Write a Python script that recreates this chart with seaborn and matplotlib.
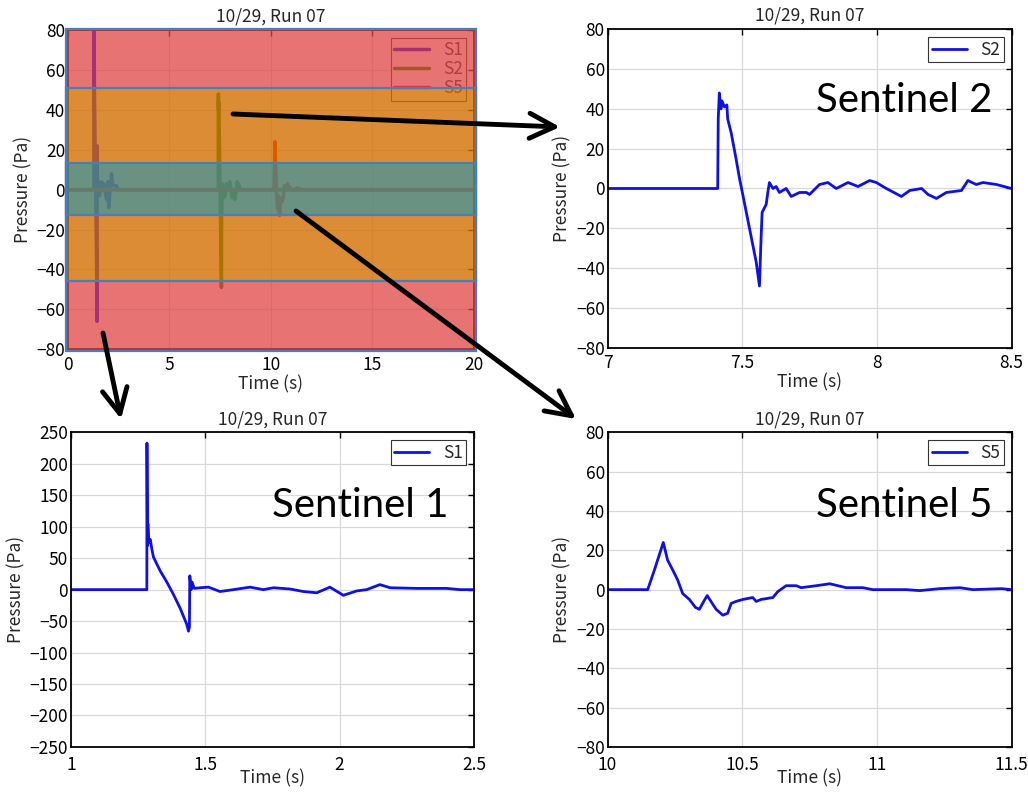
import numpy as np
import pandas as pd
import seaborn as sns
import matplotlib.pyplot as plt
from matplotlib.patches import Rectangle

# traces: time (s), pressure (Pa)
s1_time = [0.0, 1.0, 1.2826, 1.283, 1.285, 1.2865, 1.29, 1.295, 1.301, 1.307,
           1.332, 1.357, 1.382, 1.407, 1.431, 1.4376, 1.441, 1.4425, 1.4475,
           1.451, 1.459, 1.481, 1.512, 1.555, 1.605, 1.667, 1.716, 1.754,
           1.816, 1.865, 1.915, 1.964, 2.014, 2.064, 2.101, 2.150, 2.188,
           2.287, 2.398, 2.448, 2.5, 20.0]
s1_pa = [0, 0, 0, 233, 70, 105, 75, 80, 65, 52,
         30, 12, -8, -30, -55, -66, -60, 22, 0,
         12, 2, 3, 4, -3, 0, 4, 0, 3,
         1, -3, -5, 4, -9, -2, 0, 8, 3,
         2, 2, 0, 0, 0]

s2_time = [0.0, 7.0, 7.409, 7.411, 7.415, 7.421, 7.425, 7.434, 7.443, 7.446,
           7.459, 7.477, 7.49, 7.502, 7.527, 7.552, 7.564, 7.57, 7.574, 7.589,
           7.595, 7.601, 7.614, 7.626, 7.638, 7.663, 7.682, 7.713, 7.738,
           7.75, 7.787, 7.818, 7.849, 7.893, 7.930, 7.973, 7.998, 8.035,
           8.091, 8.122, 8.166, 8.19, 8.221, 8.258, 8.314, 8.338, 8.369,
           8.394, 8.444, 8.5, 20.0]
s2_pa = [0, 0, 0, 35, 48, 40, 44, 41, 42, 35,
         28, 15, 5, -3, -20, -37, -49, -25, -12, -8,
         -2, 3, 0, 1, -2, 0, -4, -2, -2,
         -3, 2, 3, 0, 3, 1, 4, 3, 0,
         -4, -1, 0, -3, -5, -2, -1, 4, 2,
         3, 2, 0, 0]

s5_time = [0.0, 10.0, 10.149, 10.174, 10.207, 10.223, 10.242, 10.26, 10.279,
           10.304, 10.326, 10.341, 10.357, 10.37, 10.384, 10.403, 10.428,
           10.446, 10.459, 10.477, 10.502, 10.539, 10.552, 10.57, 10.614,
           10.632, 10.663, 10.701, 10.719, 10.775, 10.825, 10.886, 10.948,
           10.985, 11.047, 11.109, 11.159, 11.233, 11.308, 11.357, 11.463,
           11.5, 20.0]
s5_pa = [0, 0, 0, 10, 24, 15, 10, 5, -2,
         -5, -9, -10, -6, -3, -6, -10, -13,
         -12, -7, -6, -5, -4, -6, -5, -4,
         -1, 2, 2, 1, 2, 3, 1, 1,
         0, 0, 0, -0.5, 0.5, 1, 0, 0.5,
         0, 0]

sensors = ['S1', 'S2', 'S5']
overview_colors = ['#0000ff', '#008000', '#ff0000']
title = '10/29, Run 07'

df = pd.concat([
    pd.DataFrame({'time': s1_time, 'pressure': s1_pa, 'sensor': 'S1'}),
    pd.DataFrame({'time': s2_time, 'pressure': s2_pa, 'sensor': 'S2'}),
    pd.DataFrame({'time': s5_time, 'pressure': s5_pa, 'sensor': 'S5'}),
], ignore_index=True)

sns.set_theme(style='white')
plt.rcParams['font.family'] = ['Noto Sans CJK JP', 'DejaVu Sans']
plt.rcParams['axes.unicode_minus'] = True
FS = 12.5

fig = plt.figure(figsize=(10.28, 7.92), dpi=100)


def style_axes(ax, xlim, ylim, xticks, yticks, xpad=4.5, labelpad=1):
    ax.set_xlim(xlim)
    ax.set_ylim(ylim)
    ax.set_xticks(xticks)
    ax.set_yticks(yticks)
    ax.set_xticklabels([('%g' % v) for v in xticks])
    ax.set_yticklabels([('%g' % v).replace('-', '\u2212') for v in yticks])
    ax.grid(True, color='#d9d9d9', lw=0.9)
    ax.set_axisbelow(True)
    for s in ax.spines.values():
        s.set_color('black')
        s.set_linewidth(1.3)
    ax.tick_params(direction='in', length=4, width=1, top=True, right=True,
                   labelsize=FS, colors='black')
    ax.tick_params(axis='x', pad=xpad)
    ax.tick_params(axis='y', pad=2)
    ax.set_xlabel('Time (s)', fontsize=FS, labelpad=labelpad)
    ax.set_ylabel('Pressure (Pa)', fontsize=FS, labelpad=3)
    ax.set_title(title, fontsize=FS, pad=6)


def legend_box(ax):
    leg = ax.legend(loc='upper right', fontsize=FS, frameon=True, fancybox=False,
                    framealpha=1, edgecolor='#333333', handlelength=2.0,
                    labelspacing=0.05, borderpad=0.2, borderaxespad=0.45)
    leg.get_frame().set_linewidth(0.8)
    return leg


# overview panel
ax0 = fig.add_axes([0.066, 0.559, 0.395, 0.403])
sns.lineplot(data=df, x='time', y='pressure', hue='sensor', hue_order=sensors,
             palette=overview_colors, estimator=None, sort=False, lw=2.5, ax=ax0)
style_axes(ax0, (0, 20), (-80, 80), [0, 5, 10, 15, 20], range(-80, 81, 20))
legend_box(ax0)

# coloured bands laid over the overview
tr = ax0.get_yaxis_transform()
fills = [(51.2, 81, '#e04444', 0.75), (-81, -46, '#e04444', 0.75),
         (13.3, 51.2, '#d47001', 0.8), (-46, -12.5, '#d47001', 0.8),
         (-12.5, 13.3, '#5a8675', 0.9)]
for lo, hi, c, a in fills:
    ax0.add_patch(Rectangle((-0.004, lo), 1.008, hi - lo, transform=tr, facecolor=c,
                            alpha=a, edgecolor='none', zorder=10, clip_on=False))
for lo, hi in [(-81, 80.5), (-46, 51.2), (-12.5, 13.3)]:
    ax0.add_patch(Rectangle((-0.004, lo), 1.008, hi - lo, transform=tr, facecolor='none',
                            edgecolor='#4a7ebb', lw=1.6, zorder=11, clip_on=False))

# zoomed panels
panels = [
    ('S2', [0.591, 0.561, 0.393, 0.402], (7, 8.5), [7, 7.5, 8, 8.5], (-80, 80), range(-80, 81, 20)),
    ('S1', [0.069, 0.057, 0.392, 0.397], (1, 2.5), [1, 1.5, 2, 2.5], (-250, 250), range(-250, 251, 50)),
    ('S5', [0.591, 0.057, 0.393, 0.397], (10, 11.5), [10, 10.5, 11, 11.5], (-80, 80), range(-80, 81, 20)),
]
for name, rect, xlim, xticks, ylim, yticks in panels:
    ax = fig.add_axes(rect)
    sns.lineplot(data=df[df['sensor'] == name], x='time', y='pressure', color='#1010e0',
                 estimator=None, sort=False, lw=2.0, label=name, ax=ax)
    bottom_row = rect[1] < 0.3
    style_axes(ax, xlim, ylim, xticks, yticks,
               xpad=6.5 if bottom_row else 4.5, labelpad=-3 if bottom_row else 1)
    legend_box(ax)

# annotation layer in image pixel coordinates
top = fig.add_axes([0, 0, 1, 1], zorder=20)
top.set_xlim(0, 1028)
top.set_ylim(792, 0)
top.axis('off')
top.patch.set_alpha(0)

for txt, x, y in [('Sentinel 2', 993, 112), ('Sentinel 1', 448, 517), ('Sentinel 5', 993, 517)]:
    top.text(x, y, txt, ha='right', va='baseline', fontsize=29, family=['Lato', 'DejaVu Sans'],
             color='black')

for (x0, y0), (x1, y1) in [((233, 114), (560, 127)), ((296, 211), (576, 419)), ((103, 333), (121, 419))]:
    top.annotate('', xy=(x1, y1), xytext=(x0, y0),
                 arrowprops=dict(arrowstyle='->,head_length=0.9,head_width=0.45', lw=3.5,
                                 color='black', mutation_scale=20, shrinkA=0, shrinkB=0))

fig.savefig('out.png', dpi=100)
